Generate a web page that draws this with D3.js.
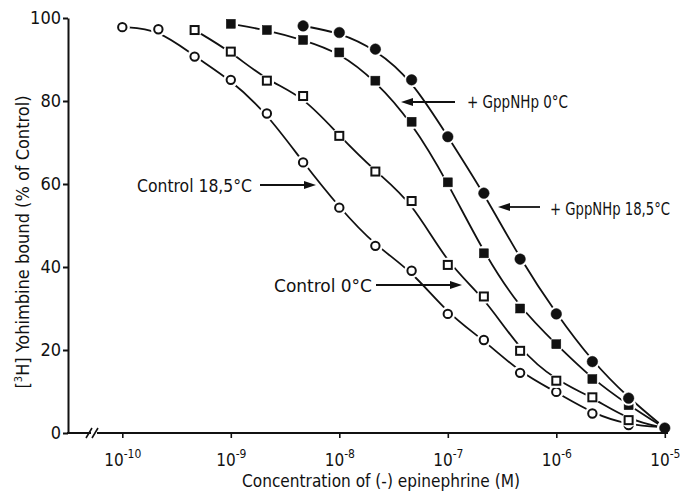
<!DOCTYPE html>
<html>
<head>
<meta charset="utf-8">
<script src="https://cdn.jsdelivr.net/npm/d3@7"></script>
<style>
  body { margin: 0; background: #fff; }
  svg { display: block; }
  text { font-family: "DejaVu Sans Condensed", "Liberation Sans Narrow", sans-serif; fill: #111; }
</style>
</head>
<body>
<svg class="chart" width="690" height="493"></svg>
<script>
// epinephrine concentrations (M), 1/3 log steps
const conc = [1e-10, 2.15e-10, 4.64e-10, 1e-9, 2.15e-9, 4.64e-9, 1e-8, 2.15e-8, 4.64e-8,
  1e-7, 2.15e-7, 4.64e-7, 1e-6, 2.15e-6, 4.64e-6, 1e-5]

// % of control bound
const control185 = [97.8, 97.3, 90.7, 85.1, 77.0, 65.2, 54.3, 45.1, 39.1, 28.7, 22.4, 14.5, 9.9, 4.7, 1.9, 1.4]
const control0 = [97.1, 91.9, 84.9, 81.2, 71.6, 63.0, 55.9, 40.5, 32.9, 19.8, 12.6, 8.6, 3.1, 1.2]
const gpp0 = [98.6, 97.1, 94.7, 91.7, 84.9, 75.0, 60.4, 43.3, 30.0, 21.4, 13.0, 6.7, 1.2]
const gpp185 = [98.1, 96.5, 92.5, 85.1, 71.4, 57.8, 41.9, 28.7, 17.2, 8.4, 1.2]

const yTicks = [0, 20, 40, 60, 80, 100]
const xTicks = [1e-10, 1e-9, 1e-8, 1e-7, 1e-6, 1e-5]
const xExp = ["-10", "-9", "-8", "-7", "-6", "-5"]

const series = [
  {name: "Control 18,5°C", values: control185, start: 0, shape: "circle", filled: false},
  {name: "Control 0°C", values: control0, start: 2, shape: "square", filled: false},
  {name: "+ GppNHp 0°C", values: gpp0, start: 3, shape: "square", filled: true},
  {name: "+ GppNHp 18,5°C", values: gpp185, start: 5, shape: "circle", filled: true}
]

const x = d3.scaleLog([1e-10, 1e-5], [122.3, 664.8])
const y = d3.scaleLinear([0, 100], [433, 18])

const svg = d3.select('.chart')

const line = d3.line()
  .x(d => x(d.c))
  .y(d => y(d.v))
  .curve(d3.curveBasis)

series.forEach(s => {
  s.points = s.values.map((v, i) => ({c: conc[s.start + i], v: v}))
})

// curves
svg.append('g')
  .selectAll('path')
  .data(series)
  .join('path')
  .attr('d', d => line(d.points))
  .attr('fill', 'none')
  .attr('stroke', '#111')
  .attr('stroke-width', 1.8)

// markers, with a white halo so lines stop short of them
const marks = svg.append('g')
series.forEach(s => {
  const g = marks.append('g')
  g.selectAll('circle.halo')
    .data(s.points)
    .join('circle')
    .attr('class', 'halo')
    .attr('cx', d => x(d.c))
    .attr('cy', d => y(d.v))
    .attr('r', 7.5)
    .attr('fill', '#fff')
  if (s.shape == "circle") {
    g.selectAll('circle.pt')
      .data(s.points)
      .join('circle')
      .attr('class', 'pt')
      .attr('cx', d => x(d.c))
      .attr('cy', d => y(d.v))
      .attr('r', s.filled ? 5.3 : 4.2)
      .attr('fill', s.filled ? '#111' : '#fff')
      .attr('stroke', '#111')
      .attr('stroke-width', s.filled ? 0.5 : 2)
  } else {
    const h = s.filled ? 9 : 8
    g.selectAll('rect.pt')
      .data(s.points)
      .join('rect')
      .attr('class', 'pt')
      .attr('x', d => x(d.c) - h / 2)
      .attr('y', d => y(d.v) - h / 2)
      .attr('width', h)
      .attr('height', h)
      .attr('fill', s.filled ? '#111' : '#fff')
      .attr('stroke', '#111')
      .attr('stroke-width', s.filled ? 0.5 : 2)
  }
})

// y axis
const yAxis = d3.axisLeft(y).tickValues(yTicks).tickSize(5).tickSizeOuter(0).tickPadding(2)
const ya = svg.append('g').attr('transform', 'translate(68,0)').call(yAxis)
ya.attr('font-family', null)
ya.select('.domain').attr('stroke', '#111').attr('stroke-width', 2)
ya.selectAll('.tick line').attr('stroke', '#111').attr('stroke-width', 2)
ya.selectAll('.tick text').attr('font-size', 18).attr('fill', '#111')

// x axis
const xAxis = d3.axisBottom(x).tickValues(xTicks).tickSize(5).tickFormat('')
const xa = svg.append('g').attr('transform', 'translate(0,433)').call(xAxis)
xa.attr('font-family', null)
xa.select('.domain').remove()
xa.selectAll('.tick line').attr('stroke', '#111').attr('stroke-width', 1.6)
const lbl = xa.selectAll('.tick text')
  .attr('y', 33)
  .attr('dy', null)
  .attr('font-size', 17)
  .attr('fill', '#111')
  .attr('text-anchor', 'middle')
lbl.text('10')
  .append('tspan')
  .attr('font-size', 12)
  .attr('dy', -8)
  .text((d, i) => xExp[i])

// axis line with break
svg.append('line').attr('x1', 67).attr('x2', 91).attr('y1', 433).attr('y2', 433)
  .attr('stroke', '#111').attr('stroke-width', 2)
svg.append('line').attr('x1', 97).attr('x2', 668).attr('y1', 433).attr('y2', 433)
  .attr('stroke', '#111').attr('stroke-width', 2)
svg.append('path')
  .attr('d', 'M86,438 L92,428 M92,438 L98,428')
  .attr('stroke', '#111').attr('stroke-width', 1.6).attr('fill', 'none')

// axis titles
svg.append('text')
  .attr('x', 242).attr('y', 487)
  .attr('font-size', 18)
  .attr('textLength', 278)
  .attr('lengthAdjust', 'spacingAndGlyphs')
  .text('Concentration of (-) epinephrine (M)')

const yt = svg.append('text')
  .attr('transform', 'translate(29,242) rotate(-90)')
  .attr('text-anchor', 'middle')
  .attr('font-size', 18)
yt.append('tspan').text('[')
yt.append('tspan').attr('font-size', 11).attr('dy', -7).text('3')
yt.append('tspan').attr('dy', 7).text('H] Yohimbine bound (% of Control)')

// annotations
const notes = [
  {text: 'Control 18,5°C', tx: 137, ty: 192, w: 115, fs: 18, ax1: 260, ax2: 316, ay: 185},
  {text: 'Control 0°C', tx: 274, ty: 292, w: 98, fs: 18, ax1: 376, ax2: 462, ay: 285},
  {text: '+ GppNHp 0°C', tx: 467, ty: 108, w: 101, fs: 17, ax1: 455, ax2: 401, ay: 102},
  {text: '+ GppNHp 18,5°C', tx: 550, ty: 215, w: 120, fs: 17, ax1: 540, ax2: 498, ay: 207}
]
svg.append('g')
  .selectAll('text')
  .data(notes)
  .join('text')
  .attr('x', d => d.tx)
  .attr('y', d => d.ty)
  .attr('font-size', d => d.fs)
  .attr('textLength', d => d.w)
  .attr('lengthAdjust', 'spacingAndGlyphs')
  .text(d => d.text)

const arr = svg.append('g')
notes.forEach(n => {
  const dir = n.ax2 > n.ax1 ? 1 : -1
  arr.append('line')
    .attr('x1', n.ax1).attr('x2', n.ax2 - dir * 10)
    .attr('y1', n.ay).attr('y2', n.ay)
    .attr('stroke', '#111').attr('stroke-width', 1.8)
  arr.append('path')
    .attr('d', `M${n.ax2},${n.ay} L${n.ax2 - dir * 12},${n.ay - 4} L${n.ax2 - dir * 12},${n.ay + 4} Z`)
    .attr('fill', '#111')
})
</script>
</body>
</html>
